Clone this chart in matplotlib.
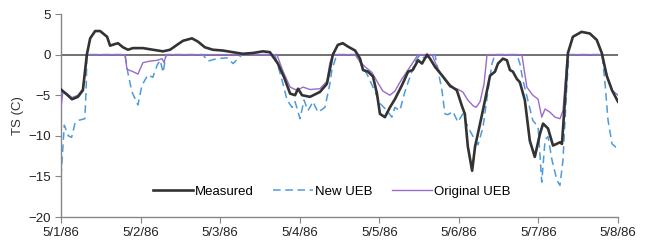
import numpy as np
import matplotlib.pyplot as plt
import matplotlib.dates as mdates
from datetime import datetime, timedelta

plt.rcParams['font.family'] = ['Liberation Sans', 'DejaVu Sans']

# hours since 5/1/86 00:00 and surface temperature (C)
meas_h = [0, 2, 3.3, 5.1, 6.6, 7.8, 8.8, 10.3, 11.8, 13.9, 14.8, 16.3, 17.2, 18.7,
          20.2, 21.7, 24.7, 27.7, 30.8, 32.9, 35, 36.8, 39.5, 41.3, 43.4, 45.8,
          48.8, 51.8, 54.8, 57.9, 60.9, 63, 65.4, 67.3, 69.1, 70.6, 71.5, 72.7,
          75.1, 78.1, 80.2, 81.1, 82, 83.5, 85, 86.5, 88.7, 90.2, 91.1, 92.6, 94.1,
          95.3, 96.2, 97.7, 99.2, 100.7, 102.8, 104.7, 106.1, 107.7, 108.9, 110.4,
          111.3, 112.8, 115.2, 117.3, 119.4, 120.9, 121.8, 122.7, 124, 124.9, 126.4,
          127.9, 129.4, 130.9, 131.8, 133.3, 134.5, 135.4, 136.3, 137.5, 138.4, 139.9,
          141.4, 142.9, 144.5, 145.4, 146.9, 148.4, 150.5, 151.1, 152, 152.9, 154.4,
          157, 159.5, 161.6, 163.1, 164.6, 166.2, 168]
meas_v = [-4.3, -5.0, -5.5, -5.2, -4.4, 0.0, 2.0, 2.9, 2.9, 2.2, 1.1, 1.3, 1.4, 0.9,
          0.6, 0.8, 0.8, 0.6, 0.4, 0.6, 1.2, 1.7, 2.0, 1.6, 0.9, 0.6,
          0.5, 0.3, 0.1, 0.2, 0.4, 0.3, -1.1, -2.8, -4.8, -5.0, -4.2, -5.0,
          -5.2, -4.6, -3.6, -1.8, 0.0, 1.2, 1.4, 1.0, 0.5, -0.5, -1.9, -2.1, -2.7,
          -4.8, -7.3, -7.7, -6.5, -5.5, -3.8, -2.1, -1.9, -0.7, -1.1, 0.0,
          -0.5, -1.5, -2.7, -3.8, -4.4, -6.3, -7.3, -11.3, -14.3, -11.3, -8.5,
          -5.6, -2.6, -2.1, -1.1, -0.5, -0.7, -1.9, -2.1, -3.0, -3.4, -5.6,
          -10.6, -12.6, -9.7, -8.5, -9.1, -11.2, -10.8, -11.0, -5.6, 0.2, 2.2,
          2.8, 2.6, 1.8, 0.2, -2.6, -4.4, -5.8]

new_h = [0, 1, 2.2, 3.2, 4.2, 5.2, 7.2, 7.6, 7.8, 19.3, 20.2, 21.4, 23.2, 24.4,
         26.2, 27.7, 29, 29.9, 30.8, 31.7, 42.8, 44.3, 47, 50.1, 51.9, 54.6,
         64.5, 66.7, 68.2, 69.7, 70.6, 72.1, 73.3, 74.5, 76, 77.5, 79.6, 81.1,
         81.7, 83.2, 89.3, 90.8, 92.3, 94.1, 96.2, 98.3, 99.8, 100.7, 102.2, 103.7,
         105.3, 106.8, 108.3, 109.8, 111.3, 112.8, 114.9, 115.8, 116.7, 118.2,
         119.7, 121.2, 122.7, 124.3, 125.8, 127.3, 128.8, 130, 130.9, 137.5, 138.4,
         139.3, 140.8, 142.3, 143.9, 145, 146, 146.9, 148.1, 149.6, 150.5, 151.4,
         152.6, 153.2, 163.2, 164.1, 165, 166.2, 167.1, 168]
new_v = [-15.0, -8.7, -10.0, -10.2, -8.5, -8.1, -7.9, -4.0, 0.0, 0.0, -2.3, -4.6, -6.2, -3.8,
         -2.5, -2.8, -1.3, -0.7, -2.2, 0.0, 0.0, -0.8, -0.5, -0.4, -1.1, 0.0,
         0.0, -3.2, -5.6, -6.5, -5.8, -7.9, -5.6, -6.9, -5.8, -7.1, -6.5, -3.6,
         -1.9, 0.0, 0.0, -1.5, -2.4, -4.0, -6.0, -6.9, -7.7, -6.5, -6.9, -4.6,
         -2.7, -0.9, 0.0, -0.5, 0.0, 0.0, -4.4, -7.3, -7.4, -7.0,
         -8.3, -7.3, -8.9, -10.1, -11.1, -8.9, -4.4, -1.1, 0.0, 0.0, -1.1,
         -3.1, -5.6, -8.1, -8.9, -15.7, -10.5, -10.1, -13.0, -15.5, -16.1, -13.0,
         -3.6, 0.0, 0.0, -3.6, -8.1, -11.0, -11.3, -11.9]

orig_h = [0, 0.6, 1.8, 3.3, 5.1, 6.6, 7.8, 19.3, 19.9, 21.7, 23.2, 24.7, 26.8, 29,
          30.5, 31.1, 31.7, 65.1, 67, 69.1, 71.2, 73, 75.1, 78.1, 80.2, 81.1, 82,
          88.7, 90.2, 91.7, 93.8, 95.6, 97.1, 99.2, 100.7, 102.8, 105.3, 107.7,
          111.9, 113.4, 115.2, 117.3, 119.4, 121.2, 122.7, 124.3, 125.2, 126.4,
          127.6, 128.5, 139, 140.5, 142.3, 143.9, 145, 146, 147.5, 149, 150.5,
          151.4, 152.6, 153.2, 163.2, 164.7, 166.2, 168]
orig_v = [-6.5, -4.5, -4.8, -5.3, -5.0, -4.2, 0.0, 0.0, -1.8, -2.1, -2.4, -1.0, -0.8, -0.7,
          -0.5, -1.0, 0.0, 0.0, -2.1, -4.0, -4.4, -4.0, -4.3, -4.2, -3.3, -1.0, 0.0,
          0.0, -0.9, -1.5, -2.2, -3.5, -4.5, -5.0, -4.5, -3.0, -1.5, 0.0,
          0.0, -1.5, -2.8, -4.0, -4.2, -4.6, -5.6, -6.3, -6.5, -5.8,
          -3.6, 0.0, 0.0, -4.0, -5.0, -5.5, -7.7, -6.7, -7.1, -7.7, -7.9,
          -6.9, -0.7, 0.0, 0.0, -2.6, -4.4, -5.0]

tick_labels = ['5/1/86', '5/2/86', '5/3/86', '5/4/86', '5/5/86', '5/6/86', '5/7/86', '5/8/86']

start = datetime(1986, 5, 1)


def to_dates(hours):
    return [start + timedelta(hours=h) for h in hours]


def main():
    fig = plt.figure(figsize=(6.49, 2.44), dpi=100, facecolor="white")
    ax = fig.add_axes([61 / 649, 1 - 217 / 244, 557 / 649, 203 / 244])

    ax.axhline(0, color="#595959", linewidth=1.2, zorder=1)
    ax.plot(to_dates(new_h), new_v, color="#4E9BDA", linestyle=(0, (5, 3)),
            linewidth=1.1, label="New UEB", zorder=2)
    ax.plot(to_dates(orig_h), orig_v, color="#9A6BC8", linewidth=1.0,
            label="Original UEB", zorder=3)
    ax.plot(to_dates(meas_h), meas_v, color="#333333", linewidth=1.9,
            label="Measured", zorder=4)

    ticks = [mdates.date2num(start + timedelta(days=i)) for i in range(len(tick_labels))]
    ax.set_xticks(ticks)
    ax.set_xticklabels(tick_labels)
    ax.set_xlim(ticks[0], ticks[-1])
    ax.set_ylim(-20, 5)
    ax.set_yticks(np.arange(-20, 6, 5))
    ax.set_ylabel("TS (C)", fontsize=9.5, color="#333333", labelpad=3)

    for s in ["top", "right"]:
        ax.spines[s].set_visible(False)
    for s in ["left", "bottom"]:
        ax.spines[s].set_color("#868686")
        ax.spines[s].set_linewidth(1.0)
    ax.tick_params(axis="both", direction="out", length=4, color="#868686",
                   labelsize=9.5, labelcolor="#222222")

    handles, labels = ax.get_legend_handles_labels()
    order = [2, 0, 1]
    ax.legend([handles[i] for i in order], [labels[i] for i in order],
              loc="lower center", bbox_to_anchor=(0.486, 0.035), ncol=3,
              frameon=False, fontsize=9.5, handlelength=3.0, columnspacing=1.5,
              handletextpad=0.15)

    fig.savefig("out.png", format="png", dpi=100)


if __name__ == "__main__":
    main()
